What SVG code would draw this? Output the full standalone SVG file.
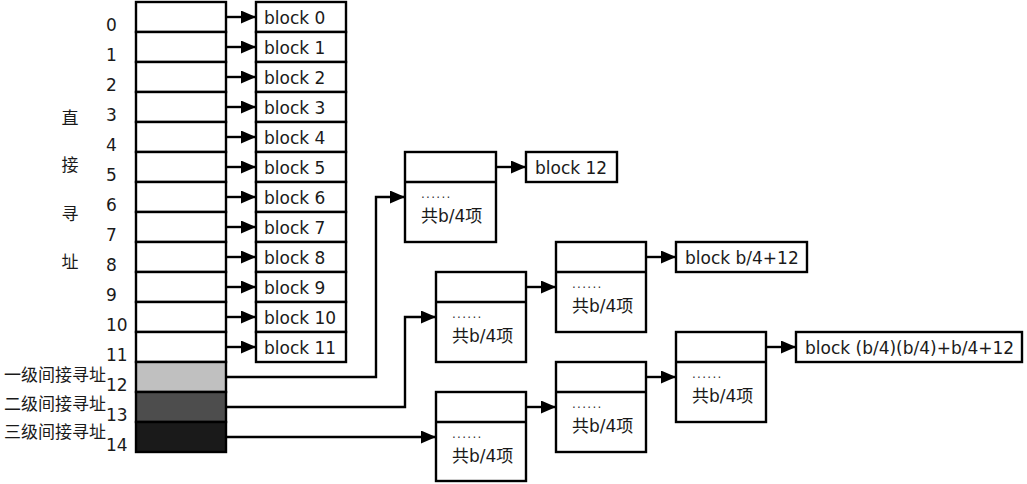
<svg xmlns="http://www.w3.org/2000/svg" width="1027" height="484" viewBox="0 0 1027 484">
<defs>
<marker id="ah" markerUnits="userSpaceOnUse" markerWidth="16" markerHeight="13" refX="15" refY="6.5" orient="auto">
<path d="M0,0 L15,6.5 L0,13 z" fill="#000"/>
</marker>
<style>
.b{fill:#fff;stroke:#000;stroke-width:2.4}
.t{font-family:"DejaVu Sans","Noto Sans CJK SC",sans-serif;font-size:17px;fill:#1a1a1a}
.c{font-family:"DejaVu Sans","Noto Sans CJK SC",sans-serif;font-size:17px;fill:#1a1a1a}
.l{fill:none;stroke:#000;stroke-width:2.4;marker-end:url(#ah)}
.s{stroke:#000;stroke-width:2.4}
.d{font-family:"DejaVu Sans",sans-serif;font-size:12px;letter-spacing:1.3px;fill:#333}
</style>
</defs>
<rect width="1027" height="484" fill="#fff"/>
<g id="labels">
<text class="c" x="70" y="124" text-anchor="middle">直</text>
<text class="c" x="70" y="171" text-anchor="middle">接</text>
<text class="c" x="70" y="220" text-anchor="middle">寻</text>
<text class="c" x="70" y="268" text-anchor="middle">址</text>
<text class="c" x="106" y="381" text-anchor="end">一级间接寻址</text>
<text class="c" x="106" y="410" text-anchor="end">二级间接寻址</text>
<text class="c" x="106" y="438" text-anchor="end">三级间接寻址</text>
<text class="t" x="106" y="31">0</text>
<text class="t" x="106" y="61">1</text>
<text class="t" x="106" y="91">2</text>
<text class="t" x="106" y="121">3</text>
<text class="t" x="106" y="151">4</text>
<text class="t" x="106" y="181">5</text>
<text class="t" x="106" y="211">6</text>
<text class="t" x="106" y="241">7</text>
<text class="t" x="106" y="271">8</text>
<text class="t" x="106" y="301">9</text>
<text class="t" x="106" y="331">10</text>
<text class="t" x="106" y="361">11</text>
<text class="t" x="106" y="391">12</text>
<text class="t" x="106" y="421">13</text>
<text class="t" x="106" y="451">14</text>
</g>
<g id="inode">
<rect class="b" x="136" y="2" width="90" height="30"/>
<rect class="b" x="136" y="32" width="90" height="30"/>
<rect class="b" x="136" y="62" width="90" height="30"/>
<rect class="b" x="136" y="92" width="90" height="30"/>
<rect class="b" x="136" y="122" width="90" height="30"/>
<rect class="b" x="136" y="152" width="90" height="30"/>
<rect class="b" x="136" y="182" width="90" height="30"/>
<rect class="b" x="136" y="212" width="90" height="30"/>
<rect class="b" x="136" y="242" width="90" height="30"/>
<rect class="b" x="136" y="272" width="90" height="30"/>
<rect class="b" x="136" y="302" width="90" height="30"/>
<rect class="b" x="136" y="332" width="90" height="30"/>
<rect class="b" x="136" y="362" width="90" height="30" style="fill:#c0c0c0"/>
<rect class="b" x="136" y="392" width="90" height="30" style="fill:#4d4d4d"/>
<rect class="b" x="136" y="422" width="90" height="30" style="fill:#1a1a1a"/>
</g>
<g id="blocks">
<rect class="b" x="256" y="2" width="90" height="30"/><text class="t" x="264" y="24">block 0</text>
<rect class="b" x="256" y="32" width="90" height="30"/><text class="t" x="264" y="54">block 1</text>
<rect class="b" x="256" y="62" width="90" height="30"/><text class="t" x="264" y="84">block 2</text>
<rect class="b" x="256" y="92" width="90" height="30"/><text class="t" x="264" y="114">block 3</text>
<rect class="b" x="256" y="122" width="90" height="30"/><text class="t" x="264" y="144">block 4</text>
<rect class="b" x="256" y="152" width="90" height="30"/><text class="t" x="264" y="174">block 5</text>
<rect class="b" x="256" y="182" width="90" height="30"/><text class="t" x="264" y="204">block 6</text>
<rect class="b" x="256" y="212" width="90" height="30"/><text class="t" x="264" y="234">block 7</text>
<rect class="b" x="256" y="242" width="90" height="30"/><text class="t" x="264" y="264">block 8</text>
<rect class="b" x="256" y="272" width="90" height="30"/><text class="t" x="264" y="294">block 9</text>
<rect class="b" x="256" y="302" width="90" height="30"/><text class="t" x="264" y="324">block 10</text>
<rect class="b" x="256" y="332" width="90" height="30"/><text class="t" x="264" y="354">block 11</text>
</g>
<g id="block12">
<rect class="b" x="526" y="152" width="91" height="30"/><text class="t" x="535" y="174">block 12</text>
</g>
<g id="blockB">
<rect class="b" x="676" y="242" width="131" height="30"/><text class="t" x="685" y="264">block b/4+12</text>
</g>
<g id="blockC">
<rect class="b" x="796" y="332" width="226" height="30"/><text class="t" x="805" y="354">block (b/4)(b/4)+b/4+12</text>
</g>
<g id="indexA">
<rect class="b" x="405" y="152" width="91" height="90"/><line class="s" x1="405" y1="182" x2="496" y2="182"/>
<text class="d" x="421" y="198">......</text><text class="c" x="421" y="222">共b/4项</text>
</g>
<g id="indexB1">
<rect class="b" x="436" y="272" width="90" height="90"/><line class="s" x1="436" y1="302" x2="526" y2="302"/>
<text class="d" x="452" y="318">......</text><text class="c" x="452" y="342">共b/4项</text>
</g>
<g id="indexB2">
<rect class="b" x="556" y="242" width="90" height="90"/><line class="s" x1="556" y1="272" x2="646" y2="272"/>
<text class="d" x="572" y="288">......</text><text class="c" x="572" y="312">共b/4项</text>
</g>
<g id="indexC1">
<rect class="b" x="436" y="392" width="90" height="89"/><line class="s" x1="436" y1="422" x2="526" y2="422"/>
<text class="d" x="452" y="438">......</text><text class="c" x="452" y="462">共b/4项</text>
</g>
<g id="indexC2">
<rect class="b" x="556" y="362" width="90" height="90"/><line class="s" x1="556" y1="392" x2="646" y2="392"/>
<text class="d" x="572" y="408">......</text><text class="c" x="572" y="432">共b/4项</text>
</g>
<g id="indexC3">
<rect class="b" x="676" y="332" width="90" height="90"/><line class="s" x1="676" y1="362" x2="766" y2="362"/>
<text class="d" x="692" y="378">......</text><text class="c" x="692" y="402">共b/4项</text>
</g>
<g id="connectors">
<line class="l" x1="226" y1="17" x2="256" y2="17"/>
<line class="l" x1="226" y1="47" x2="256" y2="47"/>
<line class="l" x1="226" y1="77" x2="256" y2="77"/>
<line class="l" x1="226" y1="107" x2="256" y2="107"/>
<line class="l" x1="226" y1="137" x2="256" y2="137"/>
<line class="l" x1="226" y1="167" x2="256" y2="167"/>
<line class="l" x1="226" y1="197" x2="256" y2="197"/>
<line class="l" x1="226" y1="227" x2="256" y2="227"/>
<line class="l" x1="226" y1="257" x2="256" y2="257"/>
<line class="l" x1="226" y1="287" x2="256" y2="287"/>
<line class="l" x1="226" y1="317" x2="256" y2="317"/>
<line class="l" x1="226" y1="347" x2="256" y2="347"/>
<polyline class="l" points="226,377 376,377 376,197 405,197"/>
<polyline class="l" points="226,407 405,407 405,317 436,317"/>
<line class="l" x1="226" y1="437" x2="436" y2="437"/>
<line class="l" x1="496" y1="167" x2="526" y2="167"/>
<line class="l" x1="526" y1="287" x2="556" y2="287"/>
<line class="l" x1="646" y1="257" x2="676" y2="257"/>
<line class="l" x1="526" y1="407" x2="556" y2="407"/>
<line class="l" x1="646" y1="377" x2="676" y2="377"/>
<line class="l" x1="766" y1="347" x2="796" y2="347"/>
</g>
</svg>
